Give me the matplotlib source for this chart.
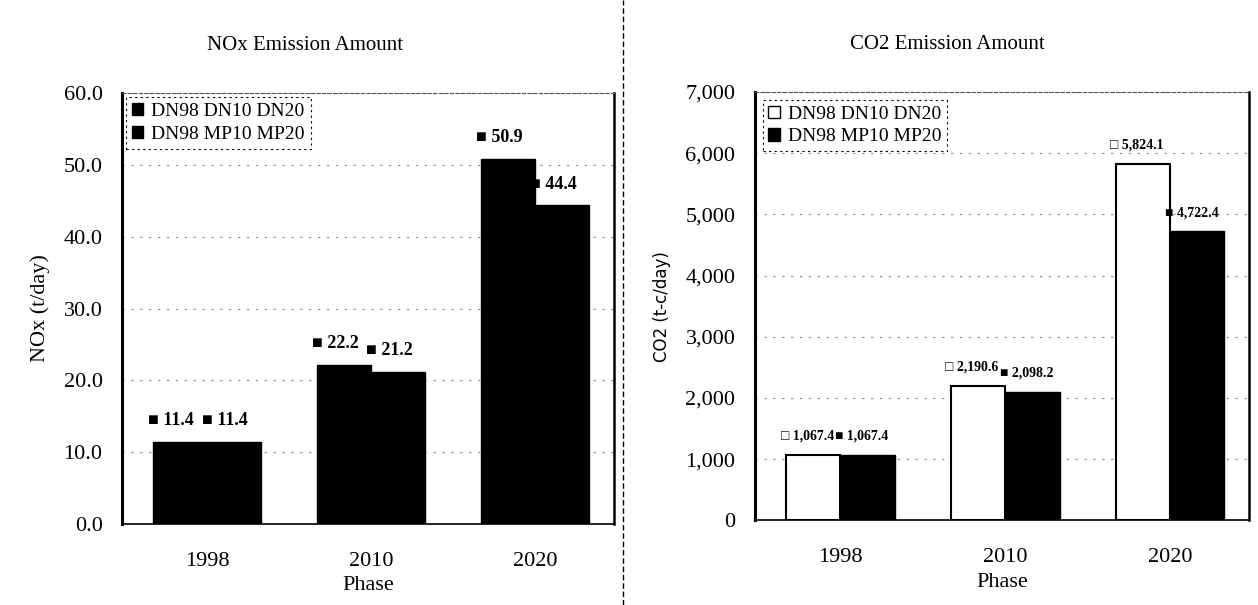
import numpy as np
import matplotlib
matplotlib.use("Agg")
import matplotlib.pyplot as plt
from matplotlib.lines import Line2D
from matplotlib.patches import Patch

# data
phases = ["1998", "2010", "2020"]
series_names = ["DN98 DN10 DN20", "DN98 MP10 MP20"]
nox_dn = [11.4, 22.2, 50.9]
nox_mp = [11.4, 21.2, 44.4]
co2_dn = [1067.4, 2190.6, 5824.1]
co2_mp = [1067.4, 2098.2, 4722.4]
nox_ticks = [0, 10, 20, 30, 40, 50, 60]
co2_ticks = [0, 1000, 2000, 3000, 4000, 5000, 6000, 7000]

plt.rcParams['font.family'] = ['Liberation Serif', 'DejaVu Sans']

fig = plt.figure(figsize=(12.58, 6.05), dpi=100)
ax1 = fig.add_axes([0.097, 0.134, 0.391, 0.712])
ax2 = fig.add_axes([0.600, 0.140, 0.393, 0.708])

x = np.arange(len(phases))
w = 0.33


def style_axes(ax, ticks, fmt):
    ax.set_xlim(-0.52, 2.48)
    ax.set_ylim(ticks[0], ticks[-1])
    ax.set_yticks(ticks)
    ax.set_yticklabels([fmt(t) for t in ticks], fontsize=16)
    ax.set_xticks(x)
    ax.set_xticklabels(phases, fontsize=16)
    ax.tick_params(axis='y', length=0, pad=14)
    ax.tick_params(axis='x', length=0, pad=20)
    ax.yaxis.grid(True, linestyle=(0, (2, 6)), color='#888888', linewidth=0.8)
    ax.set_axisbelow(True)
    ax.spines['left'].set_linewidth(2.2)
    ax.spines['right'].set_linewidth(1.8)
    ax.spines['top'].set_linestyle((0, (3, 2)))
    ax.spines['top'].set_linewidth(0.8)
    ax.spines['top'].set_color('#555555')
    ax.spines['bottom'].set_linewidth(1.2)
    ax.set_xlabel("Phase", fontsize=16, labelpad=4)


def style_legend(leg):
    frame = leg.get_frame()
    frame.set_edgecolor('black')
    frame.set_linestyle((0, (2, 3)))
    frame.set_linewidth(0.8)


# --- NOx panel
ax1.bar(x - w / 2, nox_dn, w, color='black', edgecolor='black', zorder=3)
ax1.bar(x + w / 2, nox_mp, w, color='black', edgecolor='black', zorder=3)
style_axes(ax1, nox_ticks, lambda t: "%.1f" % t)
ax1.set_title("NOx Emission Amount", fontsize=15, pad=31, x=0.372)
ax1.set_ylabel("NOx (t/day)", fontsize=16, labelpad=10)
for xi, v in zip(x, nox_dn):
    ax1.annotate("\u25a0 %.1f" % v, (xi - w, v), xytext=(-4, 12),
                 textcoords='offset points', fontsize=13, fontweight='bold')
for xi, v in zip(x, nox_mp):
    ax1.annotate("\u25a0 %.1f" % v, (xi, v), xytext=(-4, 12),
                 textcoords='offset points', fontsize=13, fontweight='bold')
h1 = [Patch(facecolor='black', edgecolor='black'),
      Patch(facecolor='black', edgecolor='black')]
leg1 = ax1.legend(h1, series_names, loc='upper left', fontsize=14,
                  handlelength=0.6, handleheight=0.6, handletextpad=0.4,
                  labelspacing=0.3, borderpad=0.3, borderaxespad=0.2,
                  fancybox=False, framealpha=1)
style_legend(leg1)

# --- CO2 panel
ax2.bar(x - w / 2, co2_dn, w, color='white', edgecolor='black', linewidth=1.5, zorder=3)
ax2.bar(x + w / 2, co2_mp, w, color='black', edgecolor='black', zorder=3)
style_axes(ax2, co2_ticks, lambda t: "{:,}".format(t))
ax2.set_title("CO2 Emission Amount", fontsize=15, pad=31, x=0.389)
ax2.set_ylabel("CO2 (t-c/day)", fontsize=12, labelpad=10, family=['DejaVu Sans'])
for xi, v in zip(x, co2_dn):
    ax2.annotate("\u25a1 {:,.1f}".format(v), (xi - w, v), xytext=(-4, 11),
                 textcoords='offset points', fontsize=10, fontweight='bold')
for xi, v in zip(x, co2_mp):
    ax2.annotate("\u25a0 {:,.1f}".format(v), (xi, v), xytext=(-4, 11),
                 textcoords='offset points', fontsize=10, fontweight='bold')
h2 = [Patch(facecolor='white', edgecolor='black'),
      Patch(facecolor='black', edgecolor='black')]
leg2 = ax2.legend(h2, series_names, loc='upper left', fontsize=14,
                  handlelength=0.6, handleheight=0.6, handletextpad=0.4,
                  labelspacing=0.3, borderpad=0.3, borderaxespad=0.4,
                  fancybox=False, framealpha=1)
style_legend(leg2)

# dashed divider between the two panels
fig.add_artist(Line2D([0.495, 0.495], [0.0, 1.0], transform=fig.transFigure,
                      color='black', linestyle=(0, (4, 2)), linewidth=1.0))

fig.savefig("out.png", dpi=100)
